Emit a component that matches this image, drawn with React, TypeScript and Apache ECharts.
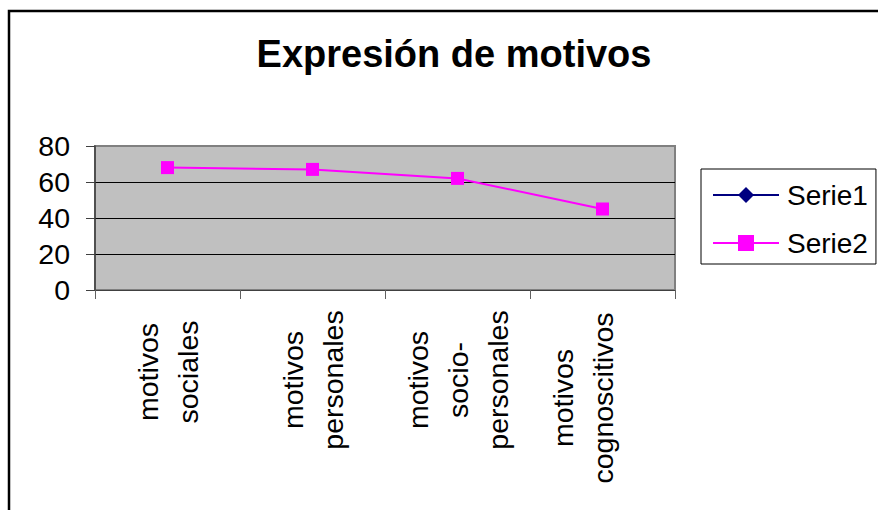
import React, { useEffect, useRef } from "react";
import * as echarts from "echarts";

const categories = [
  "motivos sociales",
  "motivos personales",
  "motivos socio-personales",
  "motivos cognoscitivos",
];
const serie1: (number | null)[] = [null, null, null, null];
const serie2 = [68, 67, 62, 45];
const yTicks = [0, 20, 40, 60, 80];

const FONT = "'Liberation Sans', Arial, sans-serif";

// per-label shift along the rotated text direction (layout only)
const labelPadding = [
  [0, 0, 0, 16],
  [0, 0, 0, 0],
  [0, 0, 0, 0],
  [0, 36, 0, 0],
];

export default function App() {
  const ref = useRef<HTMLDivElement>(null);
  useEffect(() => {
    if (!ref.current) return;
    const chart = echarts.init(ref.current, undefined, { renderer: "svg" });
    chart.setOption({
      animation: false,
      backgroundColor: "#fff",
      title: {
        text: "Expresión de motivos",
        left: 449,
        top: 30,
        textAlign: "center",
        textStyle: { fontFamily: FONT, fontSize: 38, fontWeight: "bold", color: "#000" },
      },
      graphic: [
        {
          type: "rect",
          shape: { x: 9, y: 11, width: 950, height: 600 },
          style: { fill: "none", stroke: "#000", lineWidth: 2.5 },
          silent: true,
        },
      ],
      legend: {
        orient: "vertical",
        left: 701,
        top: 169,
        padding: [12, 8, 7, 11],
        itemGap: 20,
        itemWidth: 66,
        itemHeight: 20,
        borderColor: "#000",
        borderWidth: 1,
        backgroundColor: "#fff",
        textStyle: { fontFamily: FONT, fontSize: 28, lineHeight: 28, color: "#000", padding: [0, 0, 0, 3] },
        data: ["Serie1", "Serie2"],
      },
      grid: {
        left: 95,
        top: 146,
        width: 580,
        height: 144,
        show: true,
        containLabel: false,
        outerBoundsMode: "none",
        backgroundColor: "#C0C0C0",
        borderColor: "#808080",
        borderWidth: 2,
      },
      xAxis: {
        type: "category",
        data: categories.map((c, i) => ({
          value: c,
          textStyle: { padding: labelPadding[i], align: "center", verticalAlign: "middle" },
        })),
        boundaryGap: true,
        axisLine: { show: true, lineStyle: { color: "#404040", width: 1 } },
        axisTick: { show: true, length: 9, lineStyle: { color: "#606060" } },
        axisLabel: {
          interval: 0,
          rotate: 90,
          align: "center",
          verticalAlign: "middle",
          margin: 90,
          fontFamily: FONT,
          fontSize: 28.5,
          lineHeight: 40,
          color: "#000",
          formatter: (v: string) =>
            v.replace(" ", "\n").replace("-", "-\n") + (v === "motivos cognoscitivos" ? "\n " : ""),
        },
      },
      yAxis: {
        type: "value",
        min: yTicks[0],
        max: yTicks[yTicks.length - 1],
        interval: 20,
        axisLine: { show: true, lineStyle: { color: "#404040", width: 1.5 } },
        axisTick: { show: true, length: 9, lineStyle: { color: "#404040" } },
        axisLabel: { fontFamily: FONT, fontSize: 28.5, color: "#000", margin: 25 },
        splitLine: {
          show: true,
          lineStyle: { color: ["#000", "#000", "#000", "#000", "#808080"], width: 1 },
        },
      },
      series: [
        {
          name: "Serie1",
          type: "line",
          data: serie1,
          symbol: "diamond",
          symbolSize: 13,
          itemStyle: { color: "#000080" },
          lineStyle: { color: "#000080", width: 2 },
        },
        {
          name: "Serie2",
          type: "line",
          data: serie2,
          symbol: "rect",
          symbolSize: 13,
          itemStyle: { color: "#FF00FF" },
          lineStyle: { color: "#FF00FF", width: 2 },
        },
      ],
    });
    return () => chart.dispose();
  }, []);
  return (
    <div
      ref={ref}
      style={{ position: "absolute", left: 0, top: 0, width: 878, height: 510 }}
    />
  );
}
